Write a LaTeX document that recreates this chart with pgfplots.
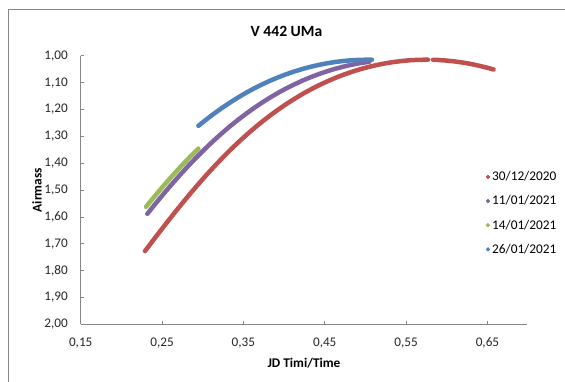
\documentclass[border=0pt]{standalone}
\usepackage{fontspec}
\setmainfont{Carlito}
\usepackage{pgfplots}
\pgfplotsset{compat=1.18}
\definecolor{cred}{HTML}{C0504D}
\definecolor{cpurple}{HTML}{8064A2}
\definecolor{cgreen}{HTML}{9BBB59}
\definecolor{cblue}{HTML}{4F81BD}
\definecolor{axgray}{HTML}{868686}
\begin{document}
\begin{tikzpicture}
\useasboundingbox (0pt,0pt) rectangle (565pt,381pt);
\draw[color=axgray, line width=0.9pt] (8pt,-2pt) -- (8pt,371.5pt) -- (567pt,371.5pt);
\begin{axis}[
  at={(304pt,190.95pt)}, anchor=center,
  scale only axis, width=446.6pt, height=268.7pt,
  xmin=0.15, xmax=0.699, ymin=1, ymax=2,
  y dir=reverse,
  axis x line*=bottom, axis y line*=left,
  axis line style={color=axgray, line width=0.8pt, -},
  tick align=inside, major tick length=3.7pt,
  tick style={color=axgray, line width=0.8pt},
  xtick={0.15,0.25,0.35,0.45,0.55,0.65},
  ytick={1,1.1,1.2,1.3,1.4,1.5,1.6,1.7,1.8,1.9,2},
  minor tick num=0,
  /pgf/number format/fixed,
  /pgf/number format/fixed zerofill,
  /pgf/number format/precision=2,
  /pgf/number format/use comma,
  /pgf/number format/assume math mode=true,
  ticklabel style={font=\fontsize{13.2}{14}\selectfont, text=black!85},
  xticklabel style={anchor=base, inner sep=0pt, yshift=-22.5pt},
  yticklabel style={anchor=east, inner sep=0pt, xshift=-12.7pt},
  legend cell align=left,
  legend image code/.code={\filldraw[#1, line width=0.5pt] (-2pt,0pt) circle (1.9pt);},
  legend style={draw=none, fill=none, at={(axis description cs:0.9,0.585)}, anchor=north west,
    font=\fontsize{13.3}{15}\selectfont, row sep=9.5pt},
]
\addplot[color=cred, line width=4.5pt, line cap=round, line join=round] table {
x y
0.229 1.7271
0.235 1.7032
0.245 1.6636
0.255 1.6245
0.265 1.5861
0.275 1.5485
0.285 1.5120
0.295 1.4766
0.305 1.4423
0.315 1.4093
0.325 1.3778
0.335 1.3475
0.345 1.3187
0.355 1.2913
0.365 1.2653
0.375 1.2408
0.385 1.2176
0.395 1.1958
0.405 1.1754
0.415 1.1563
0.425 1.1384
0.435 1.1220
0.445 1.1069
0.455 1.0929
0.465 1.0802
0.475 1.0686
0.485 1.0583
0.495 1.0490
0.505 1.0410
0.515 1.0340
0.525 1.0281
0.535 1.0233
0.545 1.0196
0.555 1.0169
0.565 1.0154
0.575 1.0148
0.577 1.0148
};
\addlegendentry{30/12/2020}
\addplot[color=cred, line width=4.5pt, line cap=round, line join=round, forget plot] table {
x y
0.583 1.0151
0.590 1.0160
0.600 1.0182
0.610 1.0214
0.620 1.0257
0.630 1.0310
0.640 1.0375
0.650 1.0450
0.6575 1.0513
};
\addplot[color=cpurple, line width=4.5pt, line cap=round, line join=round] table {
x y
0.2319 1.5884
0.2425 1.5485
0.2525 1.5120
0.2625 1.4766
0.2725 1.4423
0.2825 1.4093
0.2925 1.3778
0.3025 1.3475
0.3125 1.3187
0.3225 1.2913
0.3325 1.2653
0.3425 1.2408
0.3525 1.2176
0.3625 1.1958
0.3725 1.1754
0.3825 1.1563
0.3925 1.1384
0.4025 1.1220
0.4125 1.1069
0.4225 1.0929
0.4325 1.0802
0.4425 1.0686
0.4525 1.0583
0.4625 1.0490
0.4725 1.0410
0.4825 1.0340
0.4925 1.0281
0.5050 1.0223
};
\addlegendentry{11/01/2021}
\addplot[color=cgreen, line width=4.5pt, line cap=round, line join=round] table {
x y
0.2303 1.5624
0.2340 1.5485
0.2440 1.5120
0.2540 1.4766
0.2640 1.4423
0.2740 1.4093
0.2840 1.3778
0.2947 1.3455
};
\addlegendentry{14/01/2021}
\addplot[color=cblue, line width=4.5pt, line cap=round, line join=round] table {
x y
0.2947 1.2611
0.303 1.2408
0.313 1.2176
0.323 1.1958
0.333 1.1754
0.343 1.1563
0.353 1.1384
0.363 1.1220
0.373 1.1069
0.383 1.0929
0.393 1.0802
0.403 1.0686
0.413 1.0583
0.423 1.0490
0.433 1.0410
0.443 1.0340
0.453 1.0281
0.463 1.0233
0.473 1.0196
0.483 1.0169
0.493 1.0154
0.503 1.0148
0.508 1.0150
};
\addlegendentry{26/01/2021}
\end{axis}
\node[font=\bfseries\fontsize{15.6}{17}\selectfont] at (286.5pt,350pt) {V 442 UMa};
\node[font=\bfseries\fontsize{13.3}{15}\selectfont] at (304pt,18pt) {JD Timi/Time};
\node[font=\bfseries\fontsize{13.3}{15}\selectfont, rotate=90] at (37pt,190.95pt) {Airmass};
\end{tikzpicture}
\end{document}
